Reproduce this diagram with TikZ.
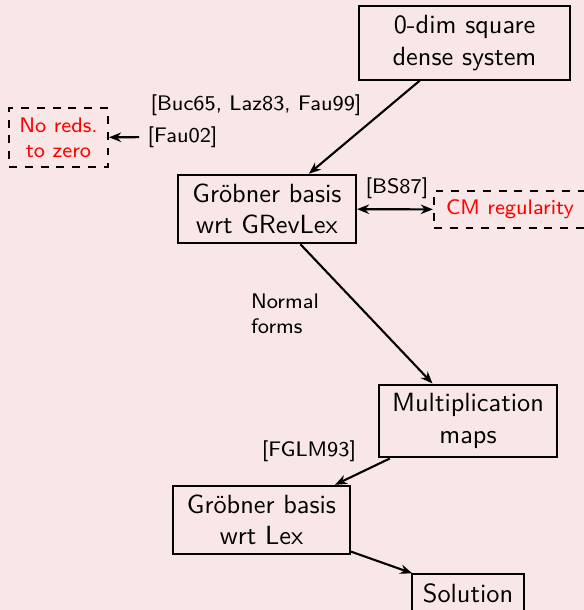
\documentclass[tikz,border=0pt]{standalone}
\usepackage{tikz}
\usetikzlibrary{arrows.meta,positioning}
\definecolor{slidebg}{RGB}{249,230,230}
\definecolor{refred}{RGB}{255,0,0}
\tikzset{
  >={Stealth[length=4.6pt,width=3.6pt]},
  % boxes
  step box/.style={draw=black,thick,align=center,inner xsep=3pt,inner ysep=3.4pt,
             font=\sffamily},
  side box/.style={draw=black,thick,dashed,align=center,inner sep=2pt,
             text=refred,font=\sffamily\footnotesize},
  cite/.style={font=\sffamily\footnotesize,inner sep=3pt},
  flow/.style={->,thick},
}
\begin{document}
\begin{tikzpicture}[x=0.38pt,y=-0.38pt]
\fill[slidebg] (0,0) rectangle (584,610);
\useasboundingbox (0,0) rectangle (584,610);
  \node[step box,minimum width=80pt] (sys) at (464.5,43) {0-dim square\\dense system};
  \node[step box,minimum width=67.6pt] (grl) at (267,209) {Gr\"obner basis\\wrt GRevLex};
  \node[side box,minimum width=37.6pt,minimum height=22.4pt] (noreds) at (58.5,137.5) {No reds.\\to zero};
  \node[side box,minimum width=57.8pt,minimum height=14pt] (cm) at (510,209.5) {CM regularity};
  \node[step box,minimum width=67.6pt] (mult) at (468,421) {Multiplication\\maps};
  \node[step box,minimum width=67.2pt] (lex) at (261.5,520) {Gr\"obner basis\\wrt Lex};
  \node[step box,minimum width=42.5pt] (sol) at (468,593) {Solution};
  % references
  \node[cite] (buc) at (256,105) {[Buc65, Laz83, Fau99]};
  \node[cite] (fau) at (182.5,137) {[Fau02]};
  \node[cite] (bs) at (397,188) {[BS87]};
  \node[cite,align=left] (nf) at (285,314) {Normal\\forms};
  \node[cite] (fglm) at (309,451) {[FGLM93]};
  \draw[flow] (sys) -- (grl);
  \draw[flow] (fau) -- (noreds);
  \draw[<->,thick] (grl) -- (cm);
  \draw[flow] (grl) -- (mult);
  \draw[flow] (mult) -- (lex);
  \draw[flow] (lex) -- (sol);
\end{tikzpicture}
\end{document}
